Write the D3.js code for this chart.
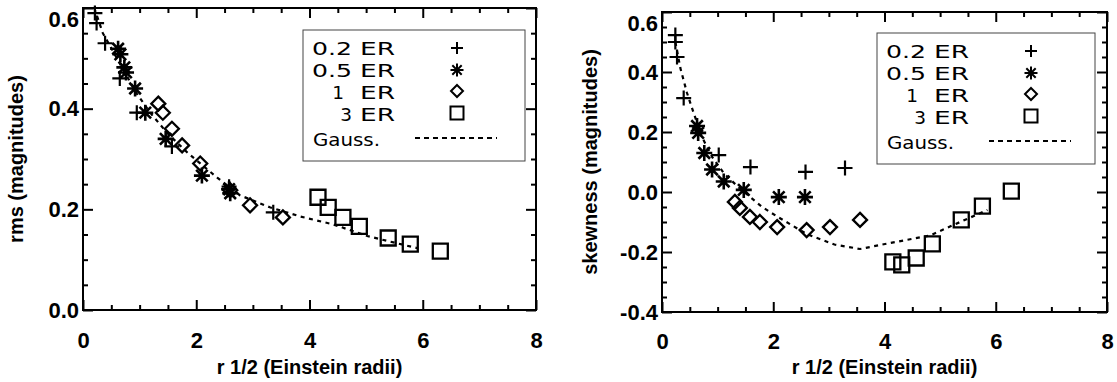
<!DOCTYPE html>
<html><head><meta charset="utf-8">
<script src="https://cdn.jsdelivr.net/npm/d3@7"></script>
<style>html,body{margin:0;padding:0;background:#fff;}svg{display:block;}</style>
</head><body>
<svg id="chart" width="1117" height="382"></svg>
<script>
// ---- tick labels / categories ----
const xTicks = [0, 2, 4, 6, 8];
const rmsTicks = [0.0, 0.2, 0.4, 0.6];
const skewTicks = [-0.4, -0.2, 0.0, 0.2, 0.4, 0.6];
const legendNumbers = ["0.2", "0.5", "1", "3"];
const legendUnit = "ER";
const legendGauss = "Gauss.";
const xTitle = "r 1/2 (Einstein radii)";
const rmsTitle = "rms (magnitudes)";
const skewTitle = "skewness (magnitudes)";

// ---- left panel: rms ----
const rmsPlusX = [0.21, 0.24, 0.39, 0.65, 0.95, 1.57, 2.58, 3.36];
const rmsPlusY = [0.590, 0.570, 0.530, 0.460, 0.392, 0.325, 0.245, 0.194];
const rmsStarX = [0.62, 0.66, 0.73, 0.76, 0.92, 1.10, 1.46, 2.10, 2.58, 2.60];
const rmsStarY = [0.519, 0.508, 0.482, 0.472, 0.440, 0.392, 0.340, 0.267, 0.240, 0.232];
const rmsDiamondX = [1.33, 1.41, 1.57, 1.75, 2.07, 2.60, 2.95, 3.53];
const rmsDiamondY = [0.410, 0.392, 0.360, 0.327, 0.291, 0.238, 0.208, 0.184];
const rmsSquareX = [4.15, 4.33, 4.59, 4.88, 5.39, 5.78, 6.31];
const rmsSquareY = [0.224, 0.204, 0.184, 0.166, 0.143, 0.131, 0.117];
const rmsGaussX = [0.20, 0.35, 0.55, 0.75, 0.95, 1.20, 1.50, 1.86, 2.37, 2.77, 3.30, 3.83, 4.42, 5.02, 5.42, 5.90];
const rmsGaussY = [0.600, 0.550, 0.510, 0.470, 0.430, 0.390, 0.350, 0.311, 0.263, 0.228, 0.204, 0.186, 0.170, 0.147, 0.136, 0.123];

// ---- right panel: skewness ----
const skPlusX = [0.24, 0.24, 0.27, 0.39, 1.02, 1.59, 2.58, 3.29];
const skPlusY = [0.523, 0.500, 0.450, 0.313, 0.123, 0.083, 0.067, 0.080];
const skStarX = [0.63, 0.65, 0.76, 0.90, 1.11, 1.47, 2.10, 2.57];
const skStarY = [0.220, 0.197, 0.130, 0.075, 0.035, 0.007, -0.017, -0.017];
const skDiamondX = [1.31, 1.40, 1.58, 1.76, 2.07, 2.60, 3.02, 3.56];
const skDiamondY = [-0.033, -0.053, -0.083, -0.100, -0.117, -0.127, -0.117, -0.093];
const skSquareX = [4.15, 4.31, 4.57, 4.86, 5.38, 5.76, 6.28];
const skSquareY = [-0.233, -0.243, -0.220, -0.173, -0.093, -0.047, 0.003];
const skGaussX = [0.24, 0.33, 0.45, 0.57, 0.72, 0.90, 1.11, 1.38, 1.80, 2.10, 2.60, 3.10, 3.56, 4.10, 4.82, 5.36, 5.85];
const skGaussY = [0.500, 0.413, 0.330, 0.263, 0.183, 0.117, 0.063, 0.015, -0.050, -0.085, -0.140, -0.175, -0.190, -0.170, -0.145, -0.100, -0.060];

const svg = d3.select("#chart");
svg.append("rect").attr("width", 1117).attr("height", 382).attr("fill", "#fff");

const AXFONT = "'Liberation Sans', Arial, Helvetica, sans-serif";
const LGFONT = "'DejaVu Sans', Verdana, sans-serif";

function symPath(type, s) {
  if (type === "plus") return `M${-s},0H${s}M0,${-s}V${s}`;
  if (type === "star") {
    const d = s * 0.72;
    return `M${-s},0H${s}M0,${-s}V${s}M${-d},${-d}L${d},${d}M${-d},${d}L${d},${-d}`;
  }
  if (type === "diamond") return `M0,${-s}L${s},0L0,${s}L${-s},0Z`;
  if (type === "square") return `M${-s},${-s}H${s}V${s}H${-s}Z`;
}

function zip(xs, ys) { return xs.map((v, i) => [v, ys[i]]); }

function panel(cfg) {
  const g = svg.append("g");
  const x = d3.scaleLinear().domain([0, 8]).range([cfg.x0, cfg.x1]);
  const y = d3.scaleLinear().domain(cfg.yDomain).range([cfg.yb, cfg.yt]);

  const xMinor = d3.range(0, 8.001, 0.5).filter(v => Math.abs(v / 2 - Math.round(v / 2)) > 1e-6);
  const yMinor = d3.range(cfg.yDomain[0], cfg.yDomain[1] + 1e-6, 0.05)
    .map(v => +v.toFixed(3)).filter(v => Math.abs(v / 0.2 - Math.round(v / 0.2)) > 1e-6);

  function styleAxis(sel) {
    sel.select(".domain").remove();
    sel.selectAll(".tick line").attr("stroke", "#000").attr("stroke-width", 2);
    sel.attr("font-family", AXFONT).attr("font-size", 22).attr("font-weight", "bold");
    sel.selectAll(".tick text").attr("fill", "#000");
  }

  // major
  const gb = g.append("g").attr("transform", `translate(0,${cfg.yb})`)
    .call(d3.axisBottom(x).tickValues(xTicks).tickSize(-10).tickPadding(cfg.xPad).tickFormat(d => String(d)));
  styleAxis(gb);
  const gt = g.append("g").attr("transform", `translate(0,${cfg.yt})`)
    .call(d3.axisTop(x).tickValues(xTicks).tickSize(-10).tickFormat(""));
  styleAxis(gt);
  const gl = g.append("g").attr("transform", `translate(${cfg.x0},0)`)
    .call(d3.axisLeft(y).tickValues(cfg.yTicks).tickSize(-10).tickPadding(4).tickFormat(d => d.toFixed(1)));
  styleAxis(gl);
  gl.selectAll(".tick text").filter(d => Math.abs(d - cfg.yDomain[1]) < 1e-9).attr("y", 11);
  const gr = g.append("g").attr("transform", `translate(${cfg.x1},0)`)
    .call(d3.axisRight(y).tickValues(cfg.yTicks).tickSize(-10).tickFormat(""));
  styleAxis(gr);
  // minor
  [[d3.axisBottom(x).tickValues(xMinor), `translate(0,${cfg.yb})`],
   [d3.axisTop(x).tickValues(xMinor), `translate(0,${cfg.yt})`],
   [d3.axisLeft(y).tickValues(yMinor), `translate(${cfg.x0},0)`],
   [d3.axisRight(y).tickValues(yMinor), `translate(${cfg.x1},0)`]].forEach(([ax, tr]) => {
    const m = g.append("g").attr("transform", tr).call(ax.tickSize(-5).tickFormat(""));
    styleAxis(m);
  });

  // frame
  g.append("rect").attr("x", cfg.x0).attr("y", cfg.yt)
    .attr("width", cfg.x1 - cfg.x0).attr("height", cfg.yb - cfg.yt)
    .attr("fill", "none").attr("stroke", "#000").attr("stroke-width", 2);

  // titles
  g.append("text").attr("x", (cfg.x0 + cfg.x1) / 2).attr("y", cfg.titleY)
    .attr("text-anchor", "middle").attr("font-family", AXFONT).attr("font-size", 20)
    .attr("font-weight", "bold").text(xTitle);
  g.append("text").attr("transform", `translate(${cfg.yTitleX},${(cfg.yt + cfg.yb) / 2}) rotate(-90)`)
    .attr("text-anchor", "middle").attr("font-family", AXFONT).attr("font-size", 20)
    .attr("font-weight", "bold").text(cfg.yTitle);

  // gauss line
  const line = d3.line().x(d => x(d[0])).y(d => y(d[1]));
  g.append("path").datum(zip(cfg.gX, cfg.gY)).attr("d", line)
    .attr("fill", "none").attr("stroke", "#000").attr("stroke-width", 2.2)
    .attr("stroke-dasharray", "4,4.5");

  // markers
  const series = [
    ["square", cfg.sqX, cfg.sqY, 7.5, 2.3],
    ["diamond", cfg.dX, cfg.dY, 7, 2.3],
    ["star", cfg.stX, cfg.stY, 8, 2.6],
    ["plus", cfg.pX, cfg.pY, 7.5, 2.2]
  ];
  series.forEach(([type, xs, ys, s, sw]) => {
    g.append("g").selectAll("path").data(zip(xs, ys)).join("path")
      .attr("transform", d => `translate(${x(d[0])},${y(d[1])})`)
      .attr("d", symPath(type, s))
      .attr("fill", "none").attr("stroke", "#000").attr("stroke-width", sw);
  });

  // legend
  const L = g.append("g").attr("transform", `translate(${cfg.lx},${cfg.ly})`);
  L.append("rect").attr("x", 0).attr("y", 0).attr("width", cfg.lw).attr("height", 131)
    .attr("fill", "#fff").attr("stroke", "#444").attr("stroke-width", 1);
  const baseY = [25, 47, 69, 91];
  const numEnd = [49, 49, 41, 49];
  const numLen = [40, 40, 0, 0];
  const symY = [18, 40, 61, 83];
  const symTypes = ["plus", "star", "diamond", "square"];
  const symSize = [6, 6.5, 6, 6.5];
  const LFS = 18.5;
  legendNumbers.forEach((n, i) => {
    const t = L.append("text").attr("x", numEnd[i]).attr("y", baseY[i]).attr("font-family", LGFONT)
      .attr("font-size", LFS).attr("text-anchor", "end").text(n);
    if (numLen[i]) t.attr("textLength", numLen[i]).attr("lengthAdjust", "spacingAndGlyphs");
    L.append("text").attr("x", 57).attr("y", baseY[i]).attr("font-family", LGFONT)
      .attr("font-size", LFS).attr("textLength", 35).attr("lengthAdjust", "spacingAndGlyphs").text(legendUnit);
    L.append("path").attr("transform", `translate(154,${symY[i]})`).attr("d", symPath(symTypes[i], symSize[i]))
      .attr("fill", "none").attr("stroke", "#000").attr("stroke-width", 2);
  });
  L.append("text").attr("x", 10).attr("y", 116).attr("font-family", LGFONT)
    .attr("font-size", LFS).attr("textLength", 67).attr("lengthAdjust", "spacingAndGlyphs").text(legendGauss);
  L.append("line").attr("x1", 112).attr("x2", 194).attr("y1", 108).attr("y2", 108)
    .attr("stroke", "#000").attr("stroke-width", 2).attr("stroke-dasharray", "5,4");
}

panel({
  x0: 83, x1: 536, yt: 8, yb: 310, yDomain: [0, 0.6], yTicks: rmsTicks, xPad: 22,
  titleY: 374, yTitleX: 23, yTitle: rmsTitle,
  pX: rmsPlusX, pY: rmsPlusY, stX: rmsStarX, stY: rmsStarY, dX: rmsDiamondX, dY: rmsDiamondY,
  sqX: rmsSquareX, sqY: rmsSquareY, gX: rmsGaussX, gY: rmsGaussY,
  lx: 303, ly: 30, lw: 222
});
panel({
  x0: 662, x1: 1107, yt: 12, yb: 312, yDomain: [-0.4, 0.6], yTicks: skewTicks, xPad: 21,
  titleY: 374, yTitleX: 597, yTitle: skewTitle,
  pX: skPlusX, pY: skPlusY, stX: skStarX, stY: skStarY, dX: skDiamondX, dY: skDiamondY,
  sqX: skSquareX, sqY: skSquareY, gX: skGaussX, gY: skGaussY,
  lx: 877, ly: 33, lw: 218
});
</script>
</body></html>
